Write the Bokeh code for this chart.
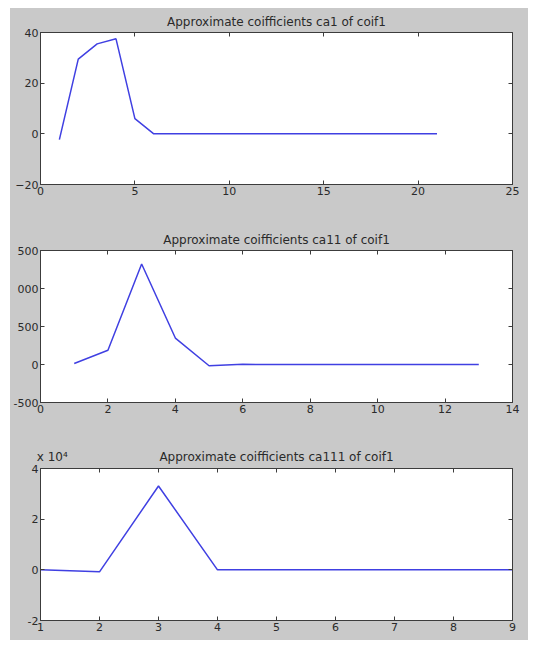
from bokeh.plotting import figure
from bokeh.models import LinearAxis, Range1d, FixedTicker, Title
from bokeh.layouts import column
from bokeh.embed import file_html
from bokeh.resources import INLINE

# ---- data ----
titles = ["Approximate coifficients ca1 of coif1",
          "Approximate coifficients ca11 of coif1",
          "Approximate coifficients ca111 of coif1"]
exponent_label = "x 10\u2074"

ca1_x = list(range(1, 22))
ca1_y = [-2.3, 29.5, 35.5, 37.5, 6.0, 0.0] + [0.0] * 15

ca11_x = list(range(1, 14))
ca11_y = [13, 187, 1322, 348, -17, 2] + [0] * 7

ca111_x = list(range(1, 10))
ca111_y = [0, -800, 33100, 0, 0, 0, 0, 0, 0]

x_ticks = [[0, 5, 10, 15, 20, 25], [0, 2, 4, 6, 8, 10, 12, 14], [1, 2, 3, 4, 5, 6, 7, 8, 9]]
y_ticks = [[-20, 0, 20, 40], [-500, 0, 500, 1000, 1500], [-20000, 0, 20000, 40000]]
y_tick_labels = [None,
                 {-500: "-500", 0: "0", 500: "500", 1000: "000", 1500: "500"},
                 {-20000: "-2", 0: "0", 20000: "2", 40000: "4"}]

BG = "#c9c9c9"
FONT = "DejaVu Sans"
LABEL_COLOR = "#2a2a2a"
BOX = "#3c3c3c"
LINE = "#4040e2"


def style_axis(ax, show_labels=True):
    ax.major_tick_in = 4
    ax.major_tick_out = 0
    ax.minor_tick_in = 0
    ax.minor_tick_out = 0
    ax.axis_line_color = BOX
    ax.major_tick_line_color = BOX
    ax.major_label_text_font = FONT
    if show_labels:
        ax.major_label_text_color = LABEL_COLOR
        ax.major_label_text_font_size = "11px"
        ax.major_label_standoff = 2
    else:
        ax.major_label_text_color = None
        ax.major_label_text_font_size = "1px"
        ax.major_label_standoff = 0


def make_panel(i, xs, ys, xr, yr, height, bottom, with_title=True):
    p = figure(width=518, height=height, output_backend="svg", toolbar_location=None,
               x_range=Range1d(*xr), y_range=Range1d(*yr),
               min_border_left=29, min_border_right=16, min_border_top=24,
               min_border_bottom=bottom, x_axis_location=None, y_axis_location=None)
    p.background_fill_color = "white"
    p.border_fill_color = BG
    p.outline_line_color = BOX
    p.grid.visible = False
    xt = FixedTicker(ticks=x_ticks[i])
    yt = FixedTicker(ticks=y_ticks[i])
    for loc, dim in (("below", "x"), ("above", "x"), ("left", "y"), ("right", "y")):
        ax = LinearAxis(ticker=xt if dim == "x" else yt)
        style_axis(ax, loc in ("below", "left"))
        if dim == "y" and y_tick_labels[i] is not None:
            ax.major_label_overrides = y_tick_labels[i]
        p.add_layout(ax, loc)
    if with_title:
        p.title = Title(text=titles[i], align="center", text_font=FONT, text_font_size="12px",
                        text_font_style="normal", text_color=LABEL_COLOR, standoff=8)
    p.line(xs, ys, line_color=LINE, line_width=1.5)
    return p


p1 = make_panel(0, ca1_x, ca1_y, (0, 25), (-20, 40), 218, 42)
p2 = make_panel(1, ca11_x, ca11_y, (0, 14), (-500, 1500), 218, 42)
p3 = make_panel(2, ca111_x, ca111_y, (1, 9), (-20000, 40000), 196, 20, with_title=False)

# title and exponent of the third panel share one row above the frame
x3_mid = (ca111_x[0] + ca111_x[-1]) / 2
x3_exp = ca111_x[0] + 0.2
head = LinearAxis(ticker=FixedTicker(ticks=[x3_exp, x3_mid]),
                  major_label_overrides={x3_exp: exponent_label, x3_mid: titles[2]})
head.axis_line_color = None
head.major_tick_line_color = None
head.major_tick_in = 0
head.major_tick_out = 0
head.minor_tick_line_color = None
head.major_label_text_font = FONT
head.major_label_text_font_size = "12px"
head.major_label_text_color = LABEL_COLOR
head.major_label_standoff = 5
p3.add_layout(head, "above")

layout = column(p1, p2, p3, spacing=0, margin=(8, 0, 0, 10))
layout.background = BG

open("out.html", "w").write(file_html(layout, INLINE))
